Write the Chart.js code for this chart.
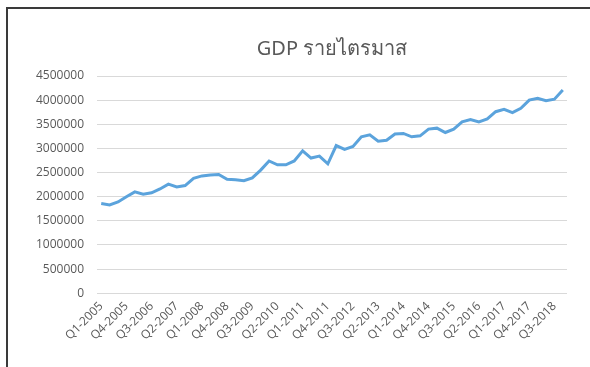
<!DOCTYPE html>
<html>
<head>
<meta charset="utf-8">
<script src="https://cdn.jsdelivr.net/npm/chart.js@4"></script>
<style>
html,body{margin:0;padding:0;background:#fff;}
#wrap{position:relative;width:590px;height:367px;overflow:hidden;}
#frame{position:absolute;left:6px;top:7px;width:700px;height:500px;border-left:2px solid #3a3a3a;border-top:2px solid #3a3a3a;}
canvas{position:absolute;left:0;top:0;}
</style>
</head>
<body>
<div id="wrap">
<div id="frame"></div>
<canvas id="c" width="590" height="367"></canvas>
</div>
<script>
// quarters Q1-2005 .. Q4-2018
const years = [2005,2006,2007,2008,2009,2010,2011,2012,2013,2014,2015,2016,2017,2018];
const quarters = ["Q1","Q2","Q3","Q4"];
const labels = [];
years.forEach(y=>quarters.forEach(q=>labels.push(q+"-"+y)));

const gdp = [
  1860000,1830000,1890000,2000000,2100000,2050000,2080000,2160000,2260000,2200000,
  2230000,2380000,2430000,2450000,2460000,2360000,2350000,2330000,2390000,2550000,
  2740000,2660000,2660000,2740000,2950000,2800000,2840000,2680000,3060000,2980000,
  3040000,3240000,3280000,3150000,3170000,3300000,3310000,3240000,3260000,3400000,
  3420000,3330000,3400000,3550000,3600000,3550000,3610000,3760000,3810000,3740000,
  3830000,4000000,4040000,3990000,4020000,4210000
];

const txt = "#595959";
const grid = "#d9d9d9";

// centre the title over the plot area, like Excel does
const titleOverPlot = {
    id:"titleOverPlot",
    afterLayout(chart){
        const t = chart.titleBlock, a = chart.chartArea;
        if(!t || !a) return;
        t.left = a.left;
        t.right = a.right;
        t.width = a.right - a.left;
    }
};

new Chart(document.getElementById("c").getContext("2d"),{
    type:"line",
    data:{
        labels:labels,
        datasets:[{
            label:"GDP",
            data:gdp,
            borderColor:"#5ba3dc",
            borderWidth:3,
            pointRadius:0,
            tension:0,
            fill:false
        }]
    },
    plugins:[titleOverPlot],
    options:{
        responsive:false,
        animation:false,
        layout:{padding:{left:23,right:23,top:37,bottom:18}},
        plugins:{
            legend:{display:false},
            tooltip:{enabled:false},
            title:{
                display:true,
                text:"GDP รายไตรมาส",
                color:txt,
                font:{family:"'Noto Sans','DejaVu Sans',sans-serif",size:20,weight:"normal"},
                padding:{top:0,bottom:15}
            }
        },
        scales:{
            x:{
                offset:true,
                grid:{display:false,drawTicks:false},
                border:{display:false},
                ticks:{
                    color:txt,
                    autoSkip:false,
                    maxRotation:45,
                    minRotation:45,
                    padding:6,
                    font:{family:"'Open Sans',sans-serif",size:12},
                    callback:function(v,i){return i%3===0?labels[i]:"";}
                }
            },
            y:{
                min:0,
                max:4500000,
                grid:{color:grid,drawTicks:false},
                border:{display:false},
                ticks:{
                    stepSize:500000,
                    color:txt,
                    padding:13,
                    font:{family:"'Open Sans',sans-serif",size:12},
                    callback:function(v){return String(v);}
                }
            }
        }
    }
});
</script>
</body>
</html>
